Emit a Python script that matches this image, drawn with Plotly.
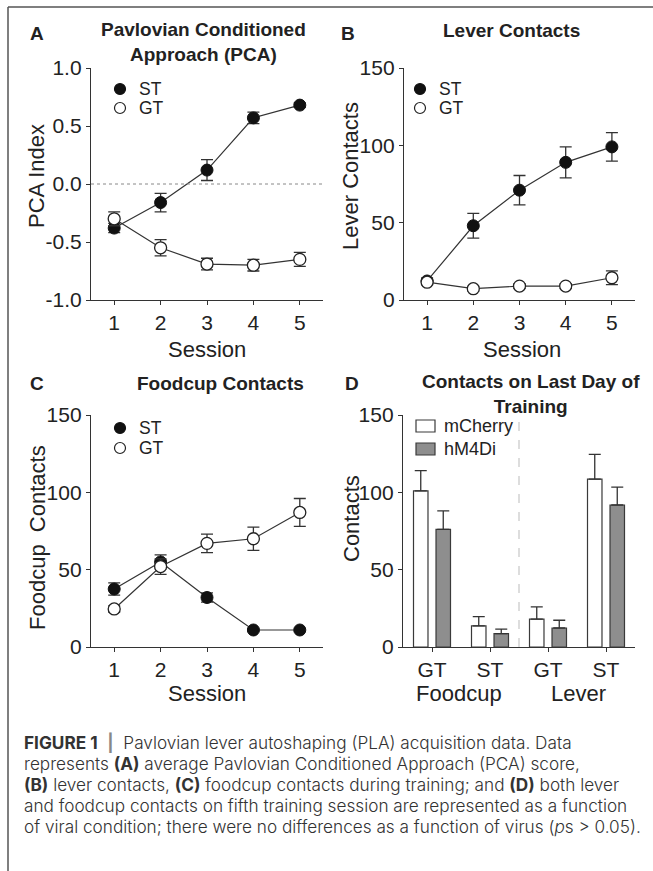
import plotly.graph_objects as go

W, H = 653, 871
FONT = "Liberation Sans, Arial, sans-serif"
CAP_FONT = "Inter, Liberation Sans, sans-serif"

# ---------------- data ----------------
sessions = [1, 2, 3, 4, 5]

pca_st = [-0.38, -0.16, 0.12, 0.57, 0.68]
pca_st_err = [0.04, 0.08, 0.09, 0.05, 0.02]
pca_gt = [-0.30, -0.55, -0.69, -0.70, -0.65]
pca_gt_err = [0.06, 0.07, 0.05, 0.05, 0.06]

lever_st = [12.3, 48, 71, 89, 99]
lever_st_err = [2, 8, 9.5, 10, 9.2]
lever_gt = [11.5, 7.3, 9, 9, 14.4]
lever_gt_err = [1.5, 1.5, 1.5, 1.5, 4.4]

food_st = [37.5, 55, 32, 11, 11]
food_st_err = [4, 4.5, 3, 1, 1]
food_gt = [24.6, 52, 67, 70, 87]
food_gt_err = [2, 5, 6, 7.5, 9]

d_groups = [1, 2, 3, 4]
d_ticklabels = ["GT", "ST", "GT", "ST"]
mcherry = [101, 13.6, 18, 108.6]
mcherry_err = [13, 6, 8, 16]
hm4di = [76, 8.6, 12.3, 91.8]
hm4di_err = [12, 3, 5, 11.6]

pca_ticks = [-1.0, -0.5, 0.0, 0.5, 1.0]
pca_ticktext = ["-1.0", "-0.5", "0.0", "0.5", "1.0"]
count_ticks = [0, 50, 100, 150]


def px(x):
    return x / W


def py(y):
    return 1 - y / H


fig = go.Figure()

AXC = "#333333"
ST_COL = "#111111"


def line_traces(xa, ya, st, st_err, gt, gt_err):
    fig.add_trace(go.Scatter(
        x=sessions, y=st, xaxis=xa, yaxis=ya, mode="lines+markers",
        line=dict(color=AXC, width=1.2),
        marker=dict(symbol="circle", size=12, color=ST_COL, line=dict(color=ST_COL, width=1)),
        error_y=dict(type="data", array=st_err, color=AXC, thickness=1.3, width=6),
        showlegend=False, name="ST"))
    fig.add_trace(go.Scatter(
        x=sessions, y=gt, xaxis=xa, yaxis=ya, mode="lines+markers",
        line=dict(color=AXC, width=1.2),
        marker=dict(symbol="circle", size=12, color="white", line=dict(color="#222222", width=1.3)),
        error_y=dict(type="data", array=gt_err, color=AXC, thickness=1.3, width=6),
        showlegend=False, name="GT"))


line_traces("x", "y", pca_st, pca_st_err, pca_gt, pca_gt_err)
line_traces("x2", "y2", lever_st, lever_st_err, lever_gt, lever_gt_err)
line_traces("x3", "y3", food_st, food_st_err, food_gt, food_gt_err)

fig.add_trace(go.Bar(
    x=d_groups, y=mcherry, xaxis="x4", yaxis="y4", name="mCherry",
    marker=dict(color="white", line=dict(color="#3a3a3a", width=1.2)),
    error_y=dict(type="data", array=mcherry_err, arrayminus=[0] * 4, symmetric=False,
                 color=AXC, thickness=1.3, width=6),
    showlegend=False))
fig.add_trace(go.Bar(
    x=d_groups, y=hm4di, xaxis="x4", yaxis="y4", name="hM4Di",
    marker=dict(color="#8e8e8e", line=dict(color="#3a3a3a", width=1.2)),
    error_y=dict(type="data", array=hm4di_err, arrayminus=[0] * 4, symmetric=False,
                 color=AXC, thickness=1.3, width=6),
    showlegend=False))

axis_common = dict(
    showline=True, linecolor=AXC, linewidth=1.3, ticks="outside", ticklen=4,
    tickwidth=1.3, tickcolor=AXC, showgrid=False, zeroline=False, automargin=False,
    tickfont=dict(family=FONT, size=21, color="#222222"),
)

topA, botA = py(300), py(68)
topC, botC = py(647), py(415)

fig.update_layout(
    width=W, height=H, margin=dict(l=0, r=0, t=0, b=0, autoexpand=False),
    paper_bgcolor="white", plot_bgcolor="white",
    barmode="group", bargap=0.224, bargroupgap=0.356,
    font=dict(family=FONT, color="#222222"),
    xaxis=dict(domain=[px(91), px(323)], range=[0.5, 5.5], tickvals=sessions, anchor="y", **axis_common),
    yaxis=dict(domain=[topA, botA], range=[-1, 1], tickvals=pca_ticks, ticktext=pca_ticktext, anchor="x", **axis_common),
    xaxis2=dict(domain=[px(404), px(635)], range=[0.5, 5.5], tickvals=sessions, anchor="y2", **axis_common),
    yaxis2=dict(domain=[topA, botA], range=[0, 150], tickvals=count_ticks, anchor="x2", **axis_common),
    xaxis3=dict(domain=[px(91), px(323)], range=[0.5, 5.5], tickvals=sessions, anchor="y3", **axis_common),
    yaxis3=dict(domain=[topC, botC], range=[0, 150], tickvals=count_ticks, anchor="x3", **axis_common),
    xaxis4=dict(domain=[px(403), px(635)], range=[0.5, 4.5], tickvals=d_groups, ticktext=d_ticklabels, anchor="y4", **axis_common),
    yaxis4=dict(domain=[topC, botC], range=[0, 150], tickvals=count_ticks, anchor="x4", **axis_common),
)

shapes = []
# dotted zero line in A
shapes.append(dict(type="line", xref="x domain", yref="y", x0=0, x1=1, y0=0, y1=0,
                   line=dict(color="#888888", width=1, dash="dot")))
# dashed divider in D
shapes.append(dict(type="line", xref="x4", yref="y4 domain", x0=2.5, x1=2.5, y0=0, y1=1,
                   line=dict(color="#bbbbbb", width=1, dash="dash")))
# figure border (top and left)
shapes.append(dict(type="line", xref="paper", yref="paper", x0=px(8), x1=1, y0=py(7), y1=py(7),
                   line=dict(color="#555555", width=1.5)))
shapes.append(dict(type="line", xref="paper", yref="paper", x0=px(8), x1=px(8), y0=py(7), y1=0,
                   line=dict(color="#555555", width=1.5)))


def circle_key(cx, cy, filled):
    shapes.append(dict(type="circle", xref="paper", yref="paper", xsizemode="pixel", ysizemode="pixel",
                       xanchor=px(cx), yanchor=py(cy), x0=-5.5, x1=5.5, y0=-5.5, y1=5.5,
                       fillcolor=ST_COL if filled else "white",
                       line=dict(color=ST_COL if filled else "#222222", width=1.2)))


def rect_key(x0, y0, x1, y1, fill):
    shapes.append(dict(type="rect", xref="paper", yref="paper", x0=px(x0), x1=px(x1), y0=py(y1), y1=py(y0),
                       fillcolor=fill, line=dict(color="#3a3a3a", width=1.2)))


annotations = []


def text(x, y, s, size, xanchor="center", bold=False, angle=0, color="#222222", family=FONT, weight=None):
    f = dict(family=family, size=size, color=color)
    if weight is not None:
        f["weight"] = weight
    annotations.append(dict(x=px(x), y=py(y), xref="paper", yref="paper", text=f"<b>{s}</b>" if bold else s,
                            showarrow=False, xanchor=xanchor, yanchor="middle", textangle=angle,
                            font=f))


# legends
for (mx, tx, y1, y2) in [(120, 137, 89, 108), (420, 437, 89, 108), (120, 137, 428, 448)]:
    circle_key(mx, y1, True)
    circle_key(mx, y2, False)
    text(tx, y1, "ST", 17.5, xanchor="left")
    text(tx, y2, "GT", 17.5, xanchor="left")

rect_key(416, 420, 435, 432, "white")
rect_key(416, 443, 435, 455, "#8e8e8e")
text(442, 426, "mCherry", 18, xanchor="left")
text(442, 449, "hM4Di", 18, xanchor="left")

# panel letters and titles
text(37, 33, "A", 19, bold=True)
text(348, 33, "B", 19, bold=True)
text(37, 383, "C", 19, bold=True)
text(352, 383, "D", 19, bold=True)
text(203, 42, "Pavlovian Conditioned<br>Approach (PCA)", 19, bold=True)
text(511, 31, "Lever Contacts", 19, bold=True)
text(220, 383, "Foodcup Contacts", 19, bold=True)
text(531, 394, "Contacts on Last Day of<br>Training", 19, bold=True)

# axis titles
text(37, 176, "PCA Index", 22, angle=-90)
text(351, 176, "Lever Contacts", 22, angle=-90)
text(37, 538, "Foodcup\u00a0 Contacts", 22, angle=-90)
text(351, 519, "Contacts", 22, angle=-90)
text(207, 350, "Session", 22)
text(522, 350, "Session", 22)
text(207, 693, "Session", 22)
text(459, 693, "Foodcup", 22)
text(578, 693, "Lever", 22)

# caption
cap = [
    "<b>FIGURE 1</b>  <span style='color:#888'><b>|</b></span>  Pavlovian lever autoshaping (PLA) acquisition data. Data",
    "represents <b>(A)</b> average Pavlovian Conditioned Approach (PCA) score,",
    "<b>(B)</b> lever contacts, <b>(C)</b> foodcup contacts during training; and <b>(D)</b> both lever",
    "and foodcup contacts on fifth training session are represented as a function",
    "of viral condition; there were no differences as a function of virus (<i>p</i>s &gt; 0.05).",
]
for i, line in enumerate(cap):
    text(22, 742 + 21 * i, line, 17.2, xanchor="left", color="#333333", family=CAP_FONT, weight=300)

fig.update_layout(shapes=shapes, annotations=annotations)
fig.write_html(
    "out.html",
    config={"displayModeBar": False},
    post_script=(
        "var gd=document.getElementById('{plot_id}');"
        "gd.style.position='fixed';gd.style.top='0px';gd.style.left='0px';"
        "document.body.style.margin='0px';document.body.style.padding='0px';"
        "document.body.style.overflow='hidden';document.documentElement.style.overflow='hidden';"
    ),
)
